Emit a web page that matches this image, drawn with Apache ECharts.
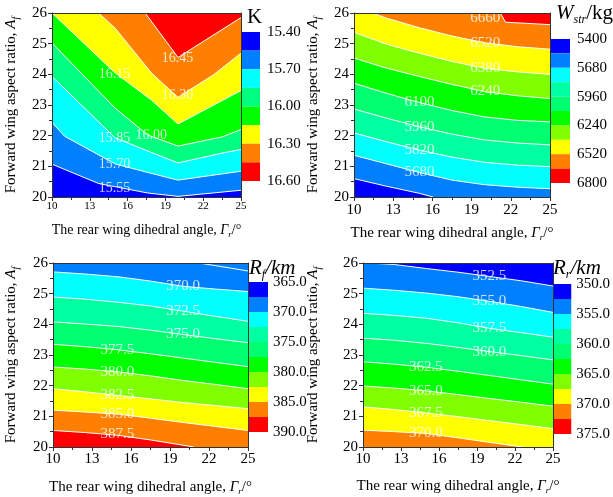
<!DOCTYPE html>
<html><head><meta charset="utf-8">
<script src="https://cdn.jsdelivr.net/npm/echarts@6/dist/echarts.min.js"></script>
<style>html,body{margin:0;padding:0;background:#fff}#c{width:613px;height:497px}</style>
</head><body><div id="c"></div>
<script>
// ---------- Panel 1: K ----------
const kLevels = [15.40,15.55,15.70,15.85,16.00,16.15,16.30,16.45,16.60];
const kColors = ['#0000FF','#0080FF','#00FFFF','#00FF80','#00FF00','#FFFF00','#FF8000','#FF0000'];
const k1555 = [[10,21.07],[13.7,20.44],[17.6,20.13],[20,20.02],[25,20.22]];
const k1570 = [[10,22.43],[11,21.98],[15,21.08],[17.6,20.8],[20,20.55],[25,20.84]];
const k1585 = [[10,23.93],[15,21.93],[17.6,21.5],[20,21.11],[23.7,21.45],[25,21.55]];
const k1600 = [[10,25.02],[15,22.9],[17.6,22.02],[20,21.66],[23.5,21.96],[25,22.2]];
const k1615 = [[10,26],[15,24.05],[17.9,23.16],[20,22.38],[25,23.47]];
const k1630 = [[13.7,26],[15,25.51],[17.9,24.04],[20,23.25],[22.8,23.98],[25,24.69]];
const k1645 = [[17.4,26],[20,24.55],[25,25.85]];
const kLabels = [[19.96,24.53,'16.45'],[19.96,23.31,'16.30'],[14.96,24.01,'16.15'],[17.87,22.02,'16.00'],[14.96,21.91,'15.85'],[14.96,21.07,'15.70'],[14.96,20.27,'15.55']];

// ---------- Panel 2: W_str ----------
const wLevels = [5400,5540,5680,5820,5960,6100,6240,6380,6520,6660,6800];
const wColors = ['#0000FF','#0080FF','#00FFFF','#00FFA0','#00FF70','#00FF00','#80FF00','#FFFF00','#FF8000','#FF0000'];
const w5540 = [[10,20.6],[12.5,20.35],[15,20.12],[16.05,20.0]];
const w5680 = [[10,21.36],[12.5,21.08],[15,20.8],[17.5,20.55],[20,20.4],[22.5,20.32],[25,20.27]];
const w5820 = [[10,22.09],[12.5,21.8],[15,21.53],[17.5,21.3],[20,21.13],[22.5,21.04],[25,20.99]];
const w5960 = [[10,22.87],[12.5,22.57],[15,22.29],[17.5,22.05],[20,21.86],[22.5,21.76],[25,21.7]];
const w6100 = [[10,23.71],[12.5,23.38],[15,23.08],[17.5,22.82],[20,22.61],[22.5,22.5],[25,22.45]];
const w6240 = [[10,24.53],[12.5,24.2],[15,23.93],[17.5,23.67],[20,23.44],[22.5,23.3],[25,23.21]];
const w6380 = [[10,25.37],[12.5,24.98],[15,24.69],[17.5,24.42],[20,24.2],[22.5,24.08],[25,24.0]];
const w6520 = [[11.4,26],[12.5,25.83],[15,25.52],[17.5,25.25],[20,25.03],[22.5,24.9],[25,24.82]];
const w6660 = [[21.2,26],[21.6,25.7],[25,25.62]];
const wLabels = [[20.04,25.84,'6660'],[20.04,25.02,'6520'],[20.04,24.2,'6380'],[20.04,23.44,'6240'],[15.01,23.08,'6100'],[15.01,22.29,'5960'],[15.01,21.53,'5820'],[15.01,20.8,'5680']];

// ---------- Panel 3: R_f ----------
const fLevels = [365,367.5,370,372.5,375,377.5,380,382.5,385,387.5,390];
const fColors = ['#0000FF','#0080FF','#00FFFF','#00FFA0','#00FF70','#00FF00','#80FF00','#FFFF00','#FF8000','#FF0000'];
const fTop = [[21.2,26],[23,25.88],[25,25.74]];
const f3700 = [[10,25.71],[12.5,25.64],[15,25.55],[17.5,25.41],[20,25.24],[22.5,25.15],[25,25.07]];
const f3725 = [[10,24.89],[12.5,24.82],[15,24.72],[17.5,24.6],[20,24.43],[22.5,24.26],[25,24.1]];
const f3750 = [[10,24.08],[12.5,24.01],[15,23.93],[17.5,23.81],[20,23.67],[22.5,23.53],[25,23.4]];
const f3775 = [[10,23.35],[12.5,23.27],[15,23.17],[17.5,23.04],[20,22.9],[22.5,22.76],[25,22.62]];
const f3800 = [[10,22.61],[12.5,22.54],[15,22.45],[17.5,22.32],[20,22.17],[22.5,22.04],[25,21.9]];
const f3825 = [[10,21.9],[12.5,21.8],[15,21.68],[17.5,21.57],[20,21.45],[22.5,21.35],[25,21.25]];
const f3850 = [[10,21.2],[12.5,21.14],[15,21.07],[17.5,20.94],[20,20.8],[22.5,20.67],[25,20.54]];
const f3875 = [[10,20.54],[12.5,20.47],[15,20.38],[17.5,20.23],[20,20.06],[20.85,20.0]];
const fLabels = [[20.0,25.24,'370.0'],[20.0,24.43,'372.5'],[20.0,23.67,'375.0'],[14.95,23.17,'377.5'],[14.95,22.45,'380.0'],[14.95,21.68,'382.5'],[14.95,21.07,'385.0'],[14.95,20.41,'387.5']];

// ---------- Panel 4: R_r ----------
const rLevels = [350,352.5,355,357.5,360,362.5,365,367.5,370,372.5,375];
const rColors = ['#0000FF','#0080FF','#00FFFF','#00FFA0','#00FF70','#00FF00','#80FF00','#FFFF00','#FF8000','#FF0000'];
const r3525 = [[10.5,26],[12.5,25.95],[15,25.82],[17.5,25.7],[20,25.56],[22.5,25.42],[25,25.25]];
const r3550 = [[10,25.18],[12.5,25.11],[15,25.02],[17.5,24.9],[20,24.75],[22.5,24.58],[25,24.39]];
const r3575 = [[10,24.36],[12.5,24.29],[15,24.2],[17.5,24.05],[20,23.87],[22.5,23.73],[25,23.58]];
const r3600 = [[10,23.55],[12.5,23.48],[15,23.38],[17.5,23.25],[20,23.11],[22.5,22.98],[25,22.84]];
const r3625 = [[10,22.78],[12.5,22.7],[15,22.6],[17.5,22.47],[20,22.33],[22.5,22.19],[25,22.05]];
const r3650 = [[10,21.99],[12.5,21.92],[15,21.83],[17.5,21.71],[20,21.58],[22.5,21.46],[25,21.33]];
const r3675 = [[10,21.31],[12.5,21.22],[15,21.11],[17.5,20.99],[20,20.86],[22.5,20.73],[25,20.6]];
const r3700 = [[10,20.55],[12.5,20.5],[15,20.44],[17.5,20.3],[20,20.15],[22.6,20.0]];
const rLabels = [[19.98,25.56,'352.5'],[19.98,24.75,'355.0'],[19.98,23.87,'357.5'],[19.98,23.11,'360.0'],[14.96,22.6,'362.5'],[14.96,21.83,'365.0'],[14.96,21.11,'367.5'],[14.96,20.44,'370.0']];

const FONT = 'Liberation Serif';
const X_MIN = 10, X_MAX = 25, Y_MIN = 20, Y_MAX = 26;

// panels: contours listed bottom -> top with the band colour filled above each
const panels = [
  {grid:{left:52,top:13,width:189,height:184}, cb:{left:241,top:32,width:19,height:149},
   levels:kLevels, colors:kColors, dec:2, bg:kColors[0], xLab:11, xName:14, xGap:24, xMargin:4, yGap:31,
   lines:[[k1555,kColors[1]],[k1570,kColors[2]],[k1585,kColors[3]],[k1600,kColors[4]],[k1615,kColors[5]],[k1630,kColors[6]],[k1645,kColors[7]]],
   labels:kLabels, labSize:14, cbMargin:7},
  {grid:{left:354,top:13,width:196,height:184}, cb:{left:550,top:39,width:20,height:144},
   levels:wLevels, colors:wColors, dec:0, bg:wColors[0], xLab:15, xName:15, xGap:27, xMargin:6, yGap:31,
   lines:[[w5540,wColors[1]],[w5680,wColors[2]],[w5820,wColors[3]],[w5960,wColors[4]],[w6100,wColors[5]],[w6240,wColors[6]],[w6380,wColors[7]],[w6520,wColors[8]],[w6660,wColors[9]]],
   labels:wLabels, labSize:15, cbMargin:7},
  {grid:{left:53,top:263,width:195,height:184}, cb:{left:248,top:282,width:20,height:150},
   levels:fLevels, colors:fColors, dec:1, bg:fColors[9], xLab:15, xName:15, xGap:31, xMargin:5, yGap:32,
   lines:[[f3875,fColors[8]],[f3850,fColors[7]],[f3825,fColors[6]],[f3800,fColors[5]],[f3775,fColors[4]],[f3750,fColors[3]],[f3725,fColors[2]],[f3700,fColors[1]],[fTop,null]],
   labels:fLabels, labSize:15, cbMargin:5},
  {grid:{left:363,top:263,width:190,height:184}, cb:{left:553,top:284,width:19,height:150},
   levels:rLevels, colors:rColors, dec:1, bg:rColors[8], xLab:15, xName:15, xGap:30, xMargin:5, yGap:40,
   lines:[[r3700,rColors[7]],[r3675,rColors[6]],[r3650,rColors[5]],[r3625,rColors[4]],[r3600,rColors[3]],[r3575,rColors[2]],[r3550,rColors[1]],[r3525,rColors[0]]],
   labels:rLabels, labSize:15, cbMargin:5}
];

function fillPts(pts){
  const out = pts.slice();
  const last = out[out.length-1];
  if (last[1] <= Y_MIN && last[0] < X_MAX) out.push([X_MAX, Y_MIN]);
  return out;
}

const grids = [], xAxes = [], yAxes = [], series = [];
const axisColor = '#333';
panels.forEach((p, pi) => {
  const gPlot = grids.length;
  grids.push(Object.assign({show:true, backgroundColor:p.bg, borderWidth:0, containLabel:false}, p.grid));
  const gCb = grids.length;
  grids.push(Object.assign({show:false}, p.cb));
  const xName = '{a|The rear wing dihedral angle, }{i|Γ}{s|r}{a|/°}';
  const yName = '{a|Forward wing aspect ratio, }{i|A}{s|f}';
  const xBot = xAxes.length;
  xAxes.push({gridIndex:gPlot, type:'value', min:X_MIN, max:X_MAX, interval:3, position:'bottom', z:10,
    axisLine:{show:true, onZero:false, lineStyle:{color:axisColor, width:1}},
    axisTick:{show:true, inside:false, length:4, lineStyle:{color:axisColor}},
    minorTick:{show:true, splitNumber:2, length:3, lineStyle:{color:axisColor}},
    splitLine:{show:false},
    axisLabel:{fontFamily:FONT, fontSize:p.xLab, color:'#000', margin:p.xMargin},
    name:xName, nameLocation:'middle', nameGap:p.xGap,
    nameTextStyle:{color:'#000', fontFamily:FONT, fontSize:p.xName,
      rich:{a:{fontFamily:FONT, fontSize:p.xName, color:'#000'},
            i:{fontFamily:FONT, fontSize:p.xName, fontStyle:'italic', color:'#000'},
            s:{fontFamily:FONT, fontSize:Math.round(p.xName*0.62), fontStyle:'italic', color:'#000', padding:[9,0,0,0]}}}});
  xAxes.push({gridIndex:gPlot, type:'value', min:X_MIN, max:X_MAX, position:'top', z:10,
    axisLine:{show:true, onZero:false, lineStyle:{color:axisColor, width:1}}, axisTick:{show:false}, axisLabel:{show:false}, splitLine:{show:false}});
  const yLeft = yAxes.length;
  yAxes.push({gridIndex:gPlot, type:'value', min:Y_MIN, max:Y_MAX, interval:1, position:'left', z:10,
    axisLine:{show:true, onZero:false, lineStyle:{color:axisColor, width:1}},
    axisTick:{show:true, inside:false, length:4, lineStyle:{color:axisColor}},
    minorTick:{show:true, splitNumber:2, length:3, lineStyle:{color:axisColor}},
    splitLine:{show:false},
    axisLabel:{fontFamily:FONT, fontSize:15, color:'#000', margin:5},
    name:yName, nameLocation:'middle', nameGap:p.yGap, nameRotate:90,
    nameTextStyle:{color:'#000', fontFamily:FONT, fontSize:15,
      rich:{a:{fontFamily:FONT, fontSize:15, color:'#000'},
            i:{fontFamily:FONT, fontSize:15, fontStyle:'italic', color:'#000'},
            s:{fontFamily:FONT, fontSize:10, fontStyle:'italic', color:'#000', padding:[9,0,0,0]}}}});
  yAxes.push({gridIndex:gPlot, type:'value', min:Y_MIN, max:Y_MAX, position:'right', z:10,
    axisLine:{show:true, onZero:false, lineStyle:{color:axisColor, width:1}}, axisTick:{show:false}, axisLabel:{show:false}, splitLine:{show:false}});

  // fills
  p.lines.forEach(([pts, col]) => {
    if (!col) return;
    series.push({type:'line', xAxisIndex:xBot, yAxisIndex:yLeft, data:fillPts(pts), symbol:'none', silent:true,
      lineStyle:{width:0, opacity:0}, areaStyle:{color:col, opacity:1, origin:'end'}, z:2, clip:true, animation:false});
  });
  // strokes
  p.lines.forEach(([pts]) => {
    series.push({type:'line', xAxisIndex:xBot, yAxisIndex:yLeft, data:pts, symbol:'none', silent:true,
      lineStyle:{color:'#fff', width:1}, z:3, clip:true, animation:false});
  });
  // contour labels
  series.push({type:'scatter', xAxisIndex:xBot, yAxisIndex:yLeft, data:p.labels, symbolSize:1, silent:true,
    itemStyle:{color:'transparent'}, z:4, animation:false,
    label:{show:true, position:'inside', formatter:(d)=>d.data[2], color:'#fff', fontFamily:FONT, fontSize:p.labSize}});

  // colorbar
  const xc = xAxes.length;
  xAxes.push({gridIndex:gCb, type:'value', min:0, max:1, show:false});
  const yc = yAxes.length;
  const step = p.levels[1]-p.levels[0];
  yAxes.push({gridIndex:gCb, type:'value', min:p.levels[0], max:p.levels[p.levels.length-1], interval:step*2, inverse:true, position:'right',
    axisLine:{show:false}, axisTick:{show:false}, splitLine:{show:false},
    axisLabel:{fontFamily:FONT, fontSize:15, color:'#000', margin:p.cbMargin, formatter:(v)=>Number(v).toFixed(p.dec)}});
  const cbData = p.colors.map((c,i)=>[p.levels[i], p.levels[i+1], i]);
  const cols = p.colors;
  series.push({type:'custom', xAxisIndex:xc, yAxisIndex:yc, data:cbData, silent:true, animation:false,
    encode:{y:[0,1]},
    renderItem:(params, api)=>{
      const a = api.coord([0, api.value(0)]);
      const b = api.coord([1, api.value(1)]);
      return {type:'rect', shape:{x:a[0], y:Math.min(a[1],b[1]), width:b[0]-a[0], height:Math.abs(b[1]-a[1])},
        style:{fill:cols[api.value(2)]}};
    }});
});

const titleRich = {
  i:{fontFamily:FONT, fontSize:21, fontStyle:'italic', fill:'#000'},
  n:{fontFamily:FONT, fontSize:21, fill:'#000'},
  ni:{fontFamily:FONT, fontSize:21, fontStyle:'italic', fill:'#000'},
  s:{fontFamily:FONT, fontSize:12, fontStyle:'italic', fill:'#000', padding:[12,0,0,0]}
};
const graphic = [
  {type:'text', left:247, top:7, style:{text:'K', font:'21px "Liberation Serif"', fill:'#000'}},
  {type:'text', left:556, top:3, style:{text:'{i|W}{s|str}{n|/kg}', rich:titleRich}},
  {type:'text', left:249, top:258, style:{text:'{i|R}{s|f}{ni|/km}', rich:titleRich}},
  {type:'text', left:553, top:258, style:{text:'{i|R}{s|r}{ni|/km}', rich:titleRich}}
];

const chart = echarts.init(document.getElementById('c'), null, {renderer:'canvas'});
chart.setOption({animation:false, backgroundColor:'#fff', grid:grids, xAxis:xAxes, yAxis:yAxes, series:series, graphic:graphic});
</script>
</body></html>
